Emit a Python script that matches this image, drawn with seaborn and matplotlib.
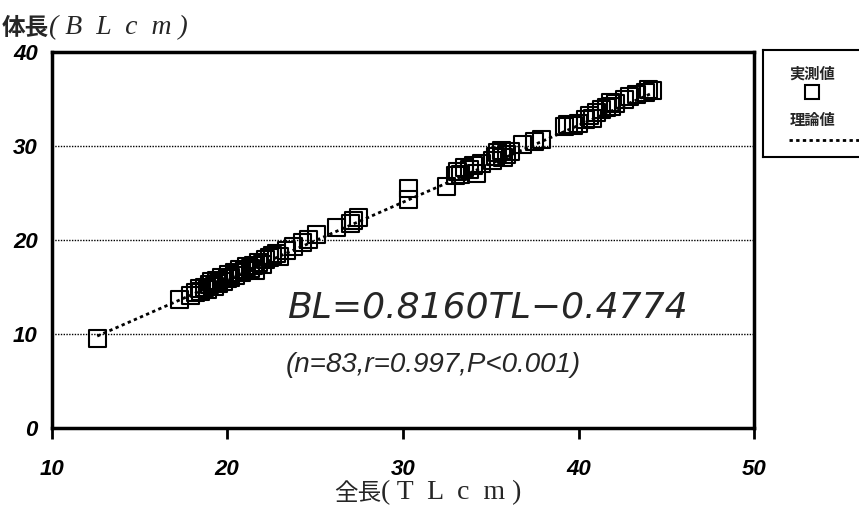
import numpy as np
import pandas as pd
import matplotlib
matplotlib.use("Agg")
import matplotlib.pyplot as plt
import seaborn as sns

# Measured total length (TL) and body length (BL), cm
tl = [12.6, 17.3, 17.9, 18.2, 18.4, 18.5, 18.7, 18.9, 19.0, 19.1,
      19.3, 19.4, 19.5, 19.7, 19.8, 20.0, 20.1, 20.2, 20.4, 20.5,
      20.7, 20.8, 21.0, 21.1, 21.3, 21.5, 21.6, 21.8, 22.0, 22.2,
      22.4, 22.6, 22.8, 23.0, 23.4, 23.8, 24.3, 24.6, 25.1, 26.2,
      27.0, 27.2, 27.5, 30.3, 30.3, 32.5, 33.0, 33.1, 33.3, 33.5,
      33.8, 34.0, 34.2, 34.5, 35.1, 35.3, 35.4, 35.6, 35.7, 35.9,
      36.1, 36.8, 37.5, 37.9, 39.2, 39.4, 39.7, 40.0, 40.4, 40.6,
      40.8, 41.0, 41.3, 41.6, 41.8, 41.9, 42.1, 42.6, 42.9, 43.3,
      43.8, 44.0, 44.2]
bl = [9.5, 13.7, 14.1, 14.4, 14.9, 14.5, 15.0, 14.7, 15.3, 15.6,
      15.1, 15.7, 15.4, 16.0, 15.6, 15.9, 16.3, 16.0, 16.5, 16.2,
      16.9, 16.6, 16.8, 17.2, 17.0, 17.3, 16.8, 17.6, 17.4, 17.9,
      18.1, 18.4, 18.6, 18.3, 18.9, 19.3, 19.7, 20.1, 20.6, 21.3,
      21.8, 22.1, 22.4, 25.5, 24.3, 25.7, 26.8, 27.3, 27.0, 27.7,
      27.5, 27.9, 27.1, 28.1, 28.4, 28.9, 29.3, 29.5, 28.8, 29.1,
      29.4, 30.1, 30.5, 30.7, 32.0, 32.3, 32.1, 32.4, 32.8, 33.2,
      32.9, 33.5, 33.8, 34.1, 34.6, 34.2, 34.5, 34.9, 35.2, 35.4,
      35.7, 36.0, 35.9]

# Regression coefficients
slope = 0.8160
intercept = -0.4774

x_ticks = [10, 20, 30, 40, 50]
y_ticks = [0, 10, 20, 30, 40]

sns.set_theme(style="white")
plt.rcParams["font.family"] = ["Liberation Sans", "Noto Sans CJK JP"]

measured = pd.DataFrame({"TL": tl, "BL": bl})
fit_x = np.array([min(tl), max(tl)])
fitted = pd.DataFrame({"TL": fit_x, "BL": slope * fit_x + intercept})

fig = plt.figure(figsize=(8.59, 5.15), dpi=100)
ax = fig.add_axes([0.060, 0.168, 0.818, 0.732])

sns.lineplot(data=fitted, x="TL", y="BL", ax=ax, color="black",
             linestyle=(0, (1.2, 1.2)), linewidth=2.0, zorder=2)
sns.scatterplot(data=measured, x="TL", y="BL", ax=ax, marker="s", s=150,
                facecolor="none", edgecolor="black", linewidth=1.5, zorder=3)

ax.set_xlim(10, 50)
ax.set_ylim(0, 40)
ax.set_xticks(x_ticks)
ax.set_yticks(y_ticks)
ax.set_xticklabels([str(v) for v in x_ticks], fontstyle="italic",
                   fontweight="bold", fontsize=16)
ax.set_yticklabels([str(v) for v in y_ticks], fontstyle="italic",
                   fontweight="bold", fontsize=16)
ax.set_xlabel("")
ax.set_ylabel("")
ax.tick_params(axis="x", direction="out", length=8, width=2, pad=14,
               bottom=True, colors="black")
ax.tick_params(axis="y", length=0, pad=10, colors="black")
ax.yaxis.grid(True, linestyle=(0, (1, 1)), linewidth=1.0, color="black")
ax.xaxis.grid(False)
for side in ["left", "bottom", "top", "right"]:
    ax.spines[side].set_visible(True)
    ax.spines[side].set_color("black")
    ax.spines[side].set_linewidth(2.5)

ax.text(0.335, 0.294, "BL=0.8160TL\u22120.4774", transform=ax.transAxes,
        family=["DejaVu Sans"], fontsize=26, fontstyle="italic",
        va="baseline", ha="left")
ax.text(0.333, 0.151, "(n=83,r=0.997,P<0.001)", transform=ax.transAxes,
        fontsize=20, fontstyle="italic", va="baseline", ha="left")

jp = ["Noto Sans CJK JP", "DejaVu Sans"]
serif = ["Liberation Serif", "DejaVu Serif"]

# Axis titles: CJK part followed by the unit set in serif
yl = fig.text(0.002, 0.933, "体長", family=jp, fontsize=17,
              fontweight="bold", va="baseline", ha="left")
xl = fig.text(0.389, 0.030, "全長", family=jp, fontsize=17,
              va="baseline", ha="left")

fig.canvas.draw()
r = fig.canvas.get_renderer()
for head, unit, style in [(yl, "( B  L  c  m )", "italic"),
                          (xl, "( T  L  c  m )", "normal")]:
    bb = head.get_window_extent(r)
    _, y0 = head.get_position()
    fig.text(bb.x1 / fig.bbox.width, y0, unit, family=serif, fontsize=20,
             fontstyle=style, va="baseline", ha="left")

# Legend panel at the right edge
lg = fig.add_axes([763 / 859, 1 - 157 / 515, 120 / 859, 107 / 515])
lg.set_xlim(0, 120)
lg.set_ylim(107, 0)
lg.set_xticks([])
lg.set_yticks([])
for side in lg.spines.values():
    side.set_color("black")
    side.set_linewidth(1.5)
lg.text(49, 24, "実測値", family=jp, fontsize=11, fontweight="bold",
        ha="center", va="center")
lg.plot([49], [42], marker="s", markersize=10, markerfacecolor="none",
        markeredgecolor="black", markeredgewidth=1.5, linestyle="none")
lg.text(49, 70, "理論値", family=jp, fontsize=11, fontweight="bold",
        ha="center", va="center")
lg.plot([26, 120], [90, 90], color="black", linestyle=(0, (1.2, 1.2)),
        linewidth=2.0)

fig.savefig("out.png", dpi=100, facecolor="white")
